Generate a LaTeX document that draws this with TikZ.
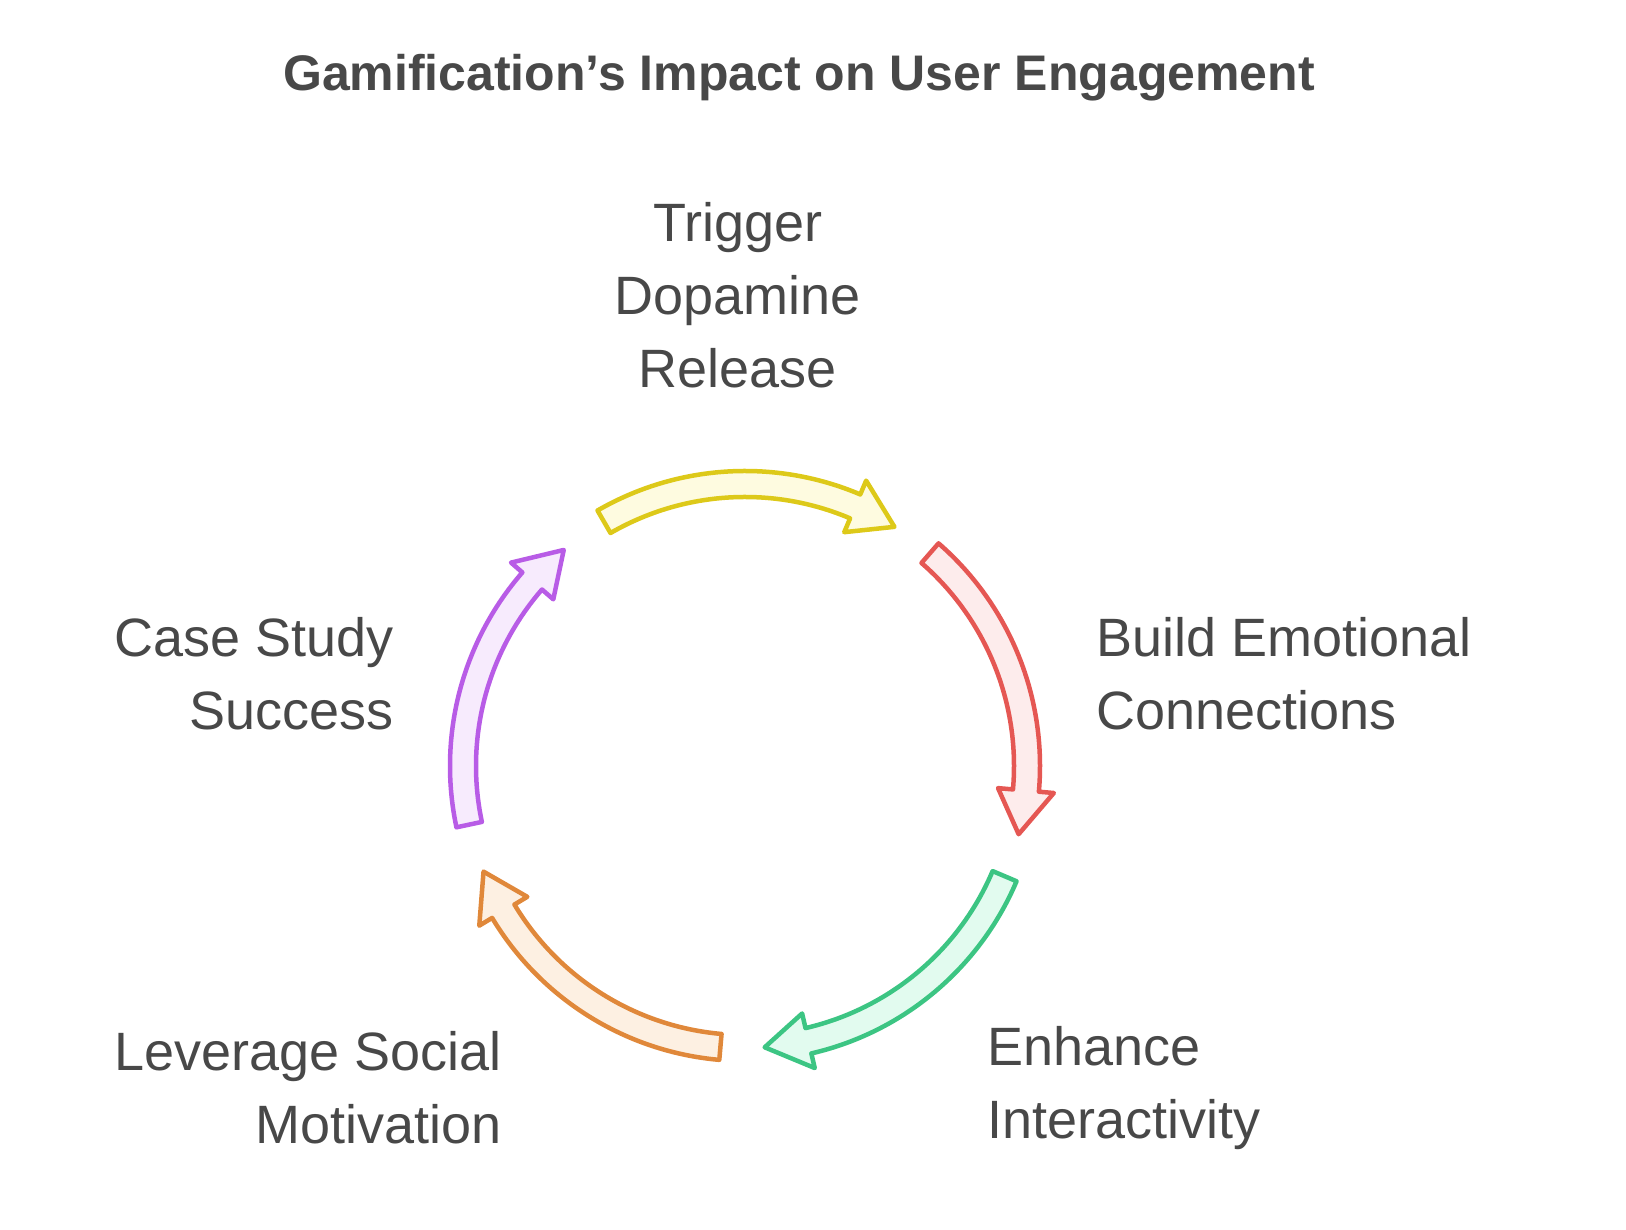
\documentclass[tikz,border=0pt]{standalone}
\usepackage{fontspec}
\setmainfont{Liberation Sans}
\begin{document}
\begin{tikzpicture}[x=1pt,y=1pt,
  lbl/.style={text=txt,font=\fontsize{54}{73}\selectfont,inner sep=0pt,align=#1},
  arr/.style={line width=4.5pt,line join=round}]
\definecolor{txt}{HTML}{484848}
\definecolor{yS}{HTML}{DDC919}\definecolor{yF}{HTML}{FEFBE0}
\definecolor{rS}{HTML}{E55753}\definecolor{rF}{HTML}{FDECEC}
\definecolor{gS}{HTML}{3CC583}\definecolor{gF}{HTML}{E2FBEF}
\definecolor{oS}{HTML}{E0883A}\definecolor{oF}{HTML}{FDF0E2}
\definecolor{pS}{HTML}{B85CE6}\definecolor{pF}{HTML}{F7EBFD}
\useasboundingbox (0,0) rectangle (1626,1230);
\newcommand{\cyclearrow}[4]{% start, head base, tip, colors
  \draw[arr,draw=#4S,fill=#4F] ([shift={(745,464)}]#1:295pt)
    arc[start angle=#1,end angle=#2,radius=295pt]
    -- ([shift={(745,464)}]#2:310pt) -- ([shift={(745,464)}]#3:282pt)
    -- ([shift={(745,464)}]#2:254pt) -- ([shift={(745,464)}]#2:269pt)
    arc[start angle=#2,end angle=#1,radius=269pt] -- cycle;}
\cyclearrow{120}{67}{58}{y}
\cyclearrow{49}{-5}{-14}{r}
\cyclearrow{-23}{-77}{-86}{g}
\cyclearrow{-95}{-149}{-158}{o}
\cyclearrow{-168}{-221}{-230}{p}
\node[text=txt,font=\bfseries\fontsize{50}{60}\selectfont,inner sep=0pt] (title) at (799,1152) {Gamification's Impact on User Engagement};
\node[lbl=center] (t) at (738,935) {Trigger\\Dopamine\\Release};
\node[lbl=left,anchor=west] (b) at (1096,556) {Build Emotional\\Connections};
\node[lbl=left,anchor=west] (e) at (987,142) {Enhance\\Interactivity};
\node[lbl=right,anchor=east] (l) at (502,142) {Leverage Social\\Motivation};
\node[lbl=right,anchor=east] (c) at (394,556) {Case Study\\Success};
\end{tikzpicture}
\end{document}
